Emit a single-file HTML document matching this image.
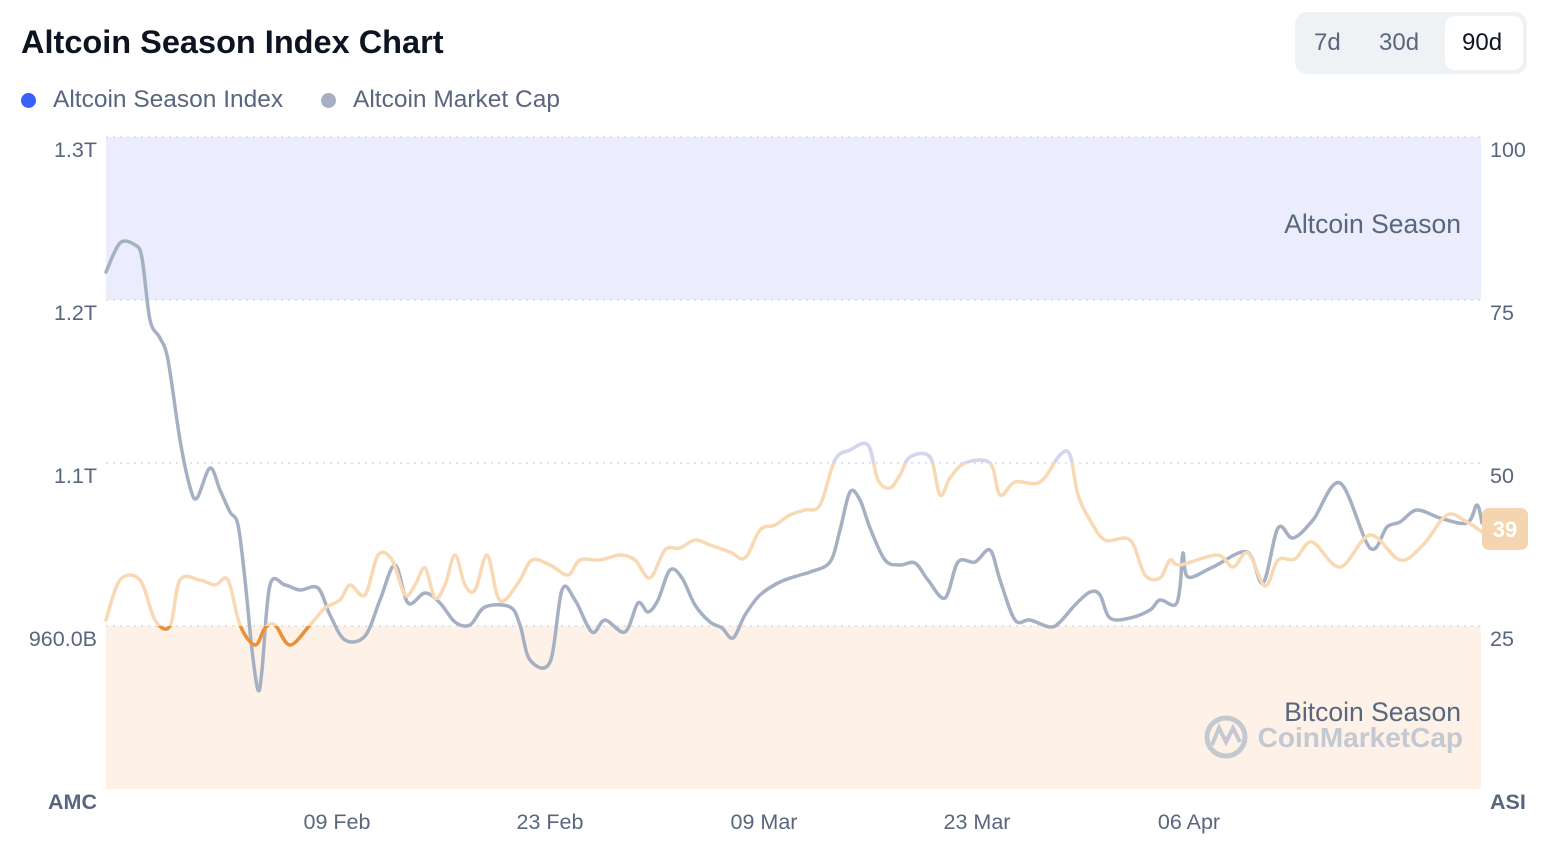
<!DOCTYPE html>
<html><head><meta charset="utf-8"><style>
body{margin:0;background:#fff;font-family:"Liberation Sans",sans-serif;}
.wrap{position:relative;width:1554px;height:850px;overflow:hidden}
.t{position:absolute;white-space:nowrap}
</style></head><body><div class="wrap">
<div class="t" style="left:21px;top:24px;font-size:32.5px;font-weight:bold;color:#0d1421">Altcoin Season Index Chart</div>
<div class="t" style="left:1295px;top:12px;width:232px;height:62px;background:#eff2f5;border-radius:12px"></div>
<div class="t" style="left:1445px;top:16px;width:78px;height:54px;background:#fff;border-radius:10px"></div>
<div class="t" style="left:1314px;top:29px;font-size:24px;color:#58667e">7d</div>
<div class="t" style="left:1379px;top:29px;font-size:24px;color:#58667e">30d</div>
<div class="t" style="left:1462px;top:29px;font-size:24px;color:#0d1421">90d</div>
<div class="t" style="left:21px;top:93px;width:15px;height:15px;border-radius:50%;background:#3861fb"></div>
<div class="t" style="left:53px;top:86px;font-size:24.5px;color:#58667e">Altcoin Season Index</div>
<div class="t" style="left:321px;top:93px;width:15px;height:15px;border-radius:50%;background:#a6b0c3"></div>
<div class="t" style="left:353px;top:86px;font-size:24.5px;color:#58667e">Altcoin Market Cap</div>
<svg width="1554" height="850" style="position:absolute;left:0;top:0">
<defs>
<clipPath id="lo"><rect x="0" y="626" width="1554" height="300"/></clipPath>
<clipPath id="hi"><rect x="0" y="0" width="1554" height="463"/></clipPath>
</defs>
<rect x="106" y="137" width="1375" height="163" fill="#ebecfc"/>
<rect x="106" y="626" width="1375" height="163" fill="#fdf1e8"/>
<g stroke="#dfe3ea" stroke-width="2" stroke-dasharray="2,5">
<line x1="106" x2="1481" y1="137" y2="137"/><line x1="106" x2="1481" y1="300" y2="300"/>
<line x1="106" x2="1481" y1="463" y2="463"/><line x1="106" x2="1481" y1="626" y2="626"/>
</g>
<g font-size="21.5" fill="#58667e" font-family="Liberation Sans,sans-serif">
<text x="97" y="157" text-anchor="end">1.3T</text><text x="97" y="320" text-anchor="end">1.2T</text>
<text x="97" y="483" text-anchor="end">1.1T</text><text x="97" y="646" text-anchor="end">960.0B</text>
<text x="1490" y="157">100</text><text x="1490" y="320">75</text><text x="1490" y="483">50</text><text x="1490" y="646">25</text>
<text x="97" y="809" text-anchor="end" font-weight="bold">AMC</text><text x="1490" y="809" font-weight="bold">ASI</text>
<text x="337" y="829" text-anchor="middle">09 Feb</text><text x="550" y="829" text-anchor="middle">23 Feb</text>
<text x="764" y="829" text-anchor="middle">09 Mar</text><text x="977" y="829" text-anchor="middle">23 Mar</text>
<text x="1189" y="829" text-anchor="middle">06 Apr</text>
<text x="1461" y="233" text-anchor="end" font-size="26.5">Altcoin Season</text>
<text x="1461" y="721" text-anchor="end" font-size="26.5">Bitcoin Season</text>
</g>
<text x="1463" y="747" text-anchor="end" font-size="28" font-weight="bold" fill="#c4c8d0" font-family="Liberation Sans,sans-serif">CoinMarketCap</text>
<circle cx="1226" cy="737" r="19" fill="none" stroke="#c4c8d0" stroke-width="5"/>
<path d="M1212 745 L1219 728 L1226 742 L1233 728 L1240 742" fill="none" stroke="#c4c8d0" stroke-width="4"/>
<path id="g" fill="none" stroke="#a6b0c3" stroke-width="3.5" stroke-linejoin="round" stroke-linecap="round"/>
<path id="o" fill="none" stroke="#f8d9b4" stroke-width="3.5" stroke-linejoin="round" stroke-linecap="round"/>
<path id="o2" fill="none" stroke="#e8913a" stroke-width="3.5" clip-path="url(#lo)"/>
<path id="o3" fill="none" stroke="#d3d6ef" stroke-width="3.5" clip-path="url(#hi)"/>
<rect x="1482" y="508" width="46" height="42" rx="7" fill="#f5d5b0"/>
<text x="1505" y="537" text-anchor="middle" font-size="22" font-weight="bold" fill="#fff" font-family="Liberation Sans,sans-serif">39</text>
</svg>
<script>
function cr(p){var d="M"+p[0][0]+" "+p[0][1];for(var i=0;i<p.length-1;i++){var a=p[i-1]||p[i],b=p[i],c=p[i+1],e=p[i+2]||c;d+=" C"+(b[0]+(c[0]-a[0])/6)+" "+(b[1]+(c[1]-a[1])/6)+" "+(c[0]-(e[0]-b[0])/6)+" "+(c[1]-(e[1]-b[1])/6)+" "+c[0]+" "+c[1];}return d;}
var G=[[106,272],[120,243],[135,245],[142,258],[150,320],[160,338],[168,360],[180,440],[190,487],[197,498],[210,468],[220,490],[230,512],[238,525],[245,580],[252,650],[258,690],[262,670],[270,585],[285,585],[300,590],[318,588],[330,615],[345,640],[365,636],[380,600],[395,565],[408,603],[425,593],[440,603],[455,622],[470,625],[485,607],[510,607],[520,625],[530,660],[550,662],[562,590],[575,600],[592,632],[605,620],[625,632],[638,603],[648,612],[658,600],[670,570],[682,578],[695,605],[710,622],[722,628],[733,638],[745,615],[760,595],[780,582],[800,575],[810,572],[830,562],[840,530],[850,492],[860,500],[870,528],[885,560],[900,565],[915,563],[928,580],[945,598],[958,562],[975,562],[990,550],[1000,580],[1015,620],[1030,620],[1050,627],[1060,622],[1075,605],[1090,592],[1100,595],[1110,618],[1130,618],[1150,610],[1160,600],[1175,605],[1180,587],[1183,553],[1188,577],[1213,567],[1247,552],[1263,583],[1278,528],[1293,538],[1313,520],[1340,483],[1370,548],[1387,527],[1400,522],[1417,510],[1440,518],[1467,523],[1477,505],[1482,523]];
var O=[[106,620],[120,580],[140,580],[155,620],[170,626],[180,580],[200,580],[215,585],[228,580],[240,625],[255,645],[265,628],[275,625],[290,645],[310,625],[325,608],[340,600],[350,585],[365,595],[378,555],[392,560],[405,595],[415,585],[425,568],[435,598],[445,585],[455,555],[465,585],[475,590],[487,555],[497,595],[505,600],[520,580],[532,560],[550,565],[568,575],[580,560],[600,560],[620,555],[635,560],[650,578],[665,550],[680,548],[695,540],[710,545],[730,552],[745,558],[760,530],[775,525],[790,515],[805,510],[820,505],[835,460],[850,450],[868,445],[878,480],[890,488],[900,475],[910,457],[930,457],[940,495],[950,478],[965,463],[990,463],[1000,495],[1015,482],[1040,482],[1060,455],[1070,455],[1078,495],[1090,520],[1105,540],[1130,540],[1145,575],[1160,578],[1170,560],[1180,565],[1217,555],[1233,567],[1248,553],[1265,586],[1278,560],[1295,559],[1312,542],[1340,567],[1370,535],[1400,560],[1423,545],[1447,515],[1467,522],[1482,532]];
var g=cr(G),o=cr(O);
document.getElementById("g").setAttribute("d",g);
["o","o2","o3"].forEach(function(i){document.getElementById(i).setAttribute("d",o);});
</script>
</div></body></html>
